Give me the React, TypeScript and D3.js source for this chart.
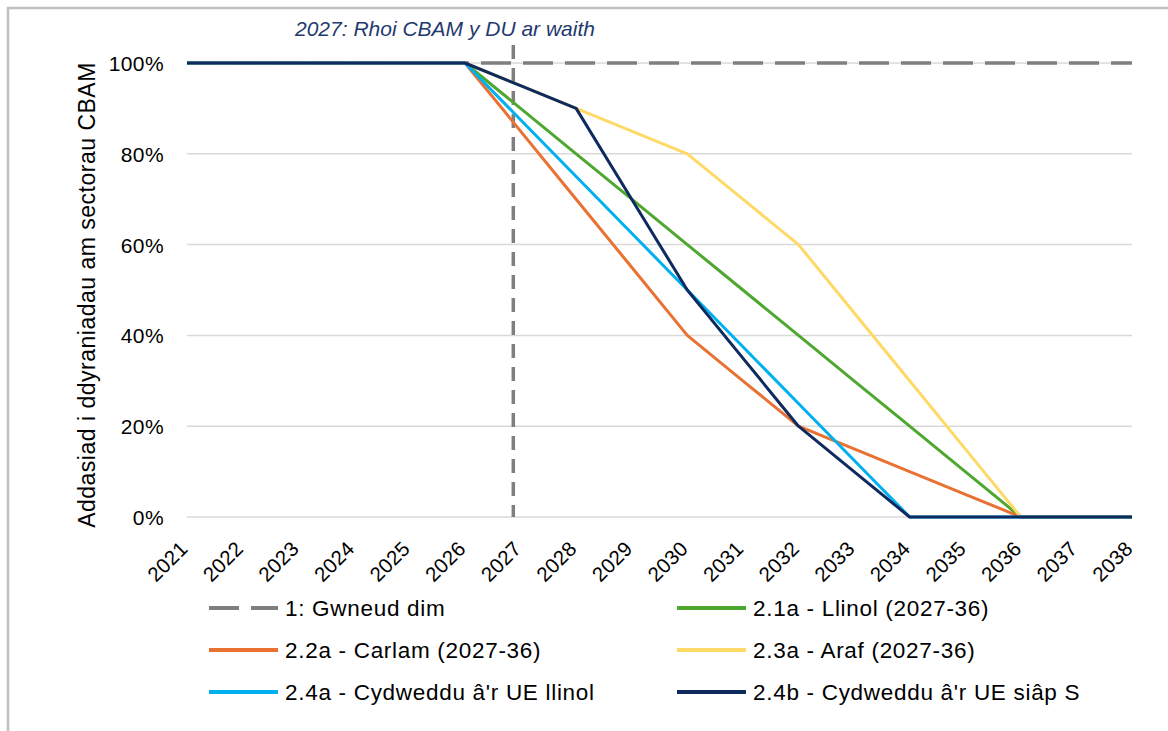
import React from "react";
import * as d3 from "d3";

const years = [2021, 2022, 2023, 2024, 2025, 2026, 2027, 2028, 2029, 2030, 2031, 2032, 2033, 2034, 2035, 2036, 2037, 2038];

const s1 = [100, 100, 100, 100, 100, 100, 100, 100, 100, 100, 100, 100, 100, 100, 100, 100, 100, 100];
const s21a = [100, 100, 100, 100, 100, 100, 90, 80, 70, 60, 50, 40, 30, 20, 10, 0, 0, 0];
const s22a = [100, 100, 100, 100, 100, 100, 85, 70, 55, 40, 30, 20, 15, 10, 5, 0, 0, 0];
const s23a = [100, 100, 100, 100, 100, 100, 95, 90, 85, 80, 70, 60, 45, 30, 15, 0, 0, 0];
const s24a = [100, 100, 100, 100, 100, 100, 87.5, 75, 62.5, 50, 37.5, 25, 12.5, 0, 0, 0, 0, 0];
const s24b = [100, 100, 100, 100, 100, 100, 95, 90, 70, 50, 35, 20, 10, 0, 0, 0, 0, 0];

const seriesNames = [
  "1: Gwneud dim",
  "2.1a - Llinol (2027-36)",
  "2.2a - Carlam (2027-36)",
  "2.3a - Araf (2027-36)",
  "2.4a - Cydweddu â'r UE llinol",
  "2.4b - Cydweddu â'r UE siâp S",
];
const seriesValues = [s1, s21a, s22a, s23a, s24a, s24b];
const seriesColors = ["#7F7F7F", "#4EA72E", "#E97132", "#FFD966", "#00B0F0", "#0E2A5E"];
const seriesDashed = [true, false, false, false, false, false];

const yTicks = [0, 20, 40, 60, 80, 100];
const yTitle = "Addasiad i ddyraniadau am sectorau CBAM";
const annotationYear = 2026.87;
const annotationText = "2027: Rhoi CBAM y DU ar waith";

const W = 1168;
const H = 731;
const FONT = "'Liberation Sans', Arial, sans-serif";

export default function App() {
  const x = d3.scaleLinear().domain([2021, 2038]).range([187, 1132]);
  const y = d3.scaleLinear().domain([0, 100]).range([517, 63]);
  const line = d3
    .line<number>()
    .x((_, i) => x(years[i]))
    .y((v) => y(v));

  const legendCols = [209, 677];
  const legendRows = [608, 650, 692];

  return (
    <div style={{ position: "absolute", left: 0, top: 0 }}>
      <svg width={W} height={H} style={{ display: "block", background: "#fff" }} fontFamily={FONT}>
        <rect x={8} y={8} width={W + 20} height={H + 20} fill="#fff" stroke="#BFBFBF" strokeWidth={2.5} />

        {yTicks.map((t) => (
          <line key={t} x1={x(2021)} x2={x(2038)} y1={y(t)} y2={y(t)} stroke="#D9D9D9" strokeWidth={1.5} />
        ))}

        {yTicks.map((t) => (
          <text key={t} x={164} y={y(t) + 8} textAnchor="end" fontSize={21} letterSpacing={0.4} fill="#000">
            {t + "%"}
          </text>
        ))}

        {years.map((yr) => (
          <text
            key={yr}
            transform={`translate(${x(yr) + 2},550) rotate(-45)`}
            textAnchor="end"
            fontSize={20.5}
            letterSpacing={0.3}
            fill="#000"
          >
            {yr}
          </text>
        ))}

        <text
          transform={`translate(${95},${295}) rotate(-90)`}
          textAnchor="middle"
          fontSize={23}
          letterSpacing={0.5}
          fill="#000"
        >
          {yTitle}
        </text>

        <line
          x1={x(annotationYear)}
          x2={x(annotationYear)}
          y1={45}
          y2={y(0)}
          stroke="#7F7F7F"
          strokeWidth={3.5}
          strokeDasharray="14,9"
        />
        <text x={445} y={36} textAnchor="middle" fontSize={21} fontStyle="italic" fill="#1F3A6E">
          {annotationText}
        </text>

        {seriesValues.map((vals, i) => (
          <path
            key={i}
            d={line(vals) || ""}
            fill="none"
            stroke={seriesColors[i]}
            strokeWidth={seriesDashed[i] ? 3.5 : 3}
            strokeDasharray={seriesDashed[i] ? "30,12" : undefined}
            strokeLinejoin="round"
          />
        ))}

        {seriesNames.map((name, i) => {
          const cx = legendCols[i % 2];
          const cy = legendRows[Math.floor(i / 2)];
          return (
            <g key={name}>
              <line
                x1={cx}
                x2={cx + 69}
                y1={cy}
                y2={cy}
                stroke={seriesColors[i]}
                strokeWidth={4}
                strokeDasharray={seriesDashed[i] ? "30,12" : undefined}
              />
              <text x={cx + 76} y={cy + 8} fontSize={22.5} letterSpacing={0.7} fill="#000">
                {name}
              </text>
            </g>
          );
        })}
      </svg>
    </div>
  );
}
